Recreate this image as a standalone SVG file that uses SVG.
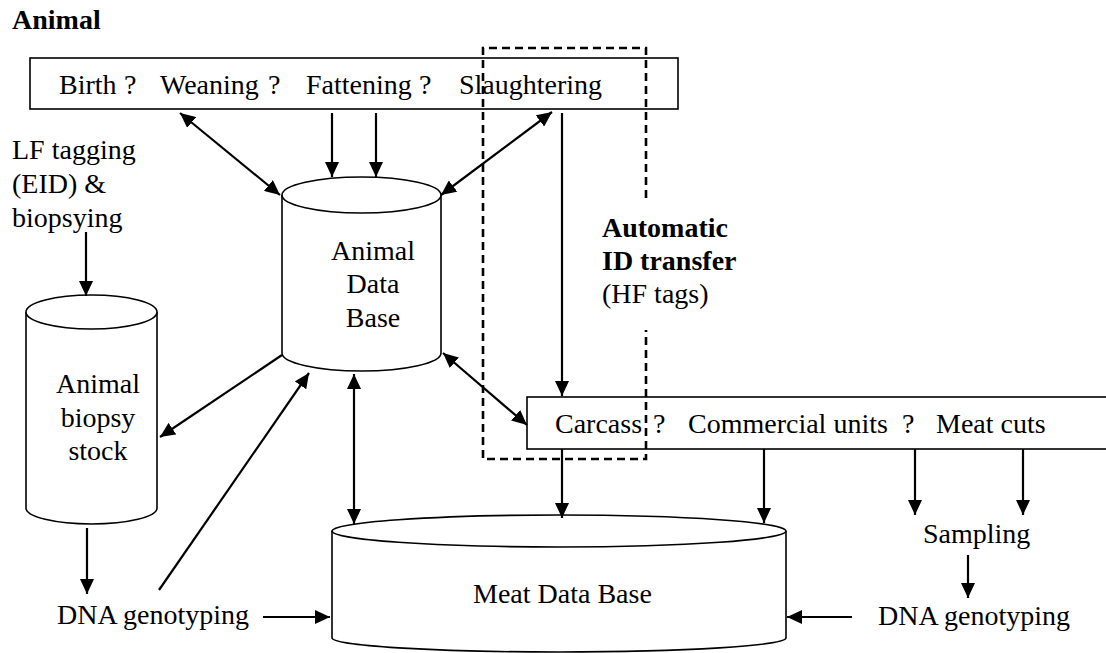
<svg xmlns="http://www.w3.org/2000/svg" width="1106" height="653" viewBox="0 0 1106 653">
<style>
text{font-family:"Liberation Serif","Times New Roman",serif;font-size:28px;fill:#000}
.b{font-weight:bold}
.m{text-anchor:middle}
.box{fill:#fff;stroke:#000;stroke-width:1.6}
.cyl{fill:#fff;stroke:#000;stroke-width:1.6}
.c{stroke:#000;stroke-width:2.2;fill:none}
.dash{fill:none;stroke:#000;stroke-width:2.6;stroke-dasharray:8 5}
</style>
<defs>
<marker id="ah" markerUnits="userSpaceOnUse" markerWidth="16" markerHeight="14" refX="15" refY="7" orient="auto-start-reverse">
<path d="M0,0 L15,7 L0,14 Z" fill="#000"/>
</marker>
</defs>
<rect width="1106" height="653" fill="#fff"/>
<text class="b" x="12" y="29">Animal</text>

<g id="stages-animal">
<rect class="box" x="30" y="58" width="648" height="51"/>
<text y="94"><tspan x="59">Birth</tspan><tspan x="124">?</tspan><tspan x="160">Weaning</tspan><tspan x="268">?</tspan><tspan x="306">Fattening</tspan><tspan x="419">?</tspan><tspan x="459">Slaughtering</tspan></text>
</g>

<g id="stages-meat">
<rect class="box" x="527" y="397" width="600" height="52"/>
<text y="433"><tspan x="555">Carcass</tspan><tspan x="653">?</tspan><tspan x="688">Commercial units</tspan><tspan x="902">?</tspan><tspan x="936">Meat cuts</tspan></text>
</g>

<g id="lf-tagging">
<text x="12" y="159">LF tagging</text>
<text x="12" y="193">(EID) &amp;</text>
<text x="12" y="227">biopsying</text>
</g>

<g id="animal-db">
<path class="cyl" d="M282,195 V353 A79.5,18 0 0 0 441,353 V195"/>
<ellipse class="cyl" cx="361.5" cy="195" rx="79.5" ry="18"/>
<text class="m" x="373" y="260">Animal</text>
<text class="m" x="373" y="293">Data</text>
<text class="m" x="373" y="327">Base</text>
</g>

<g id="biopsy-stock">
<path class="cyl" d="M26,312 V508 A65.5,16 0 0 0 157,508 V312"/>
<ellipse class="cyl" cx="91.5" cy="312" rx="65.5" ry="17"/>
<text class="m" x="98" y="393">Animal</text>
<text class="m" x="98" y="427">biopsy</text>
<text class="m" x="98" y="460">stock</text>
</g>

<g id="meat-db">
<path class="cyl" d="M332,531 V638 A227,14 0 0 0 786,638 V531"/>
<ellipse class="cyl" cx="559" cy="531" rx="227" ry="16"/>
<text x="473" y="603">Meat Data Base</text>
</g>

<g id="dna-left"><text x="57" y="624">DNA genotyping</text></g>
<g id="sampling"><text x="923" y="543">Sampling</text></g>
<g id="dna-right"><text x="878" y="625">DNA genotyping</text></g>

<g id="id-transfer">
<path class="dash" d="M646,198 V48 H483 V459 H646 V330"/>
<text class="b" x="602" y="237">Automatic</text>
<text class="b" x="602" y="270">ID transfer</text>
<text x="602" y="303">(HF tags)</text>
</g>

<g id="connectors">
<line class="c" x1="180" y1="113" x2="280" y2="195" marker-start="url(#ah)" marker-end="url(#ah)"/>
<line class="c" x1="332" y1="113" x2="332" y2="177" marker-end="url(#ah)"/>
<line class="c" x1="376" y1="113" x2="376" y2="177" marker-end="url(#ah)"/>
<line class="c" x1="552" y1="112" x2="441" y2="195" marker-start="url(#ah)" marker-end="url(#ah)"/>
<line class="c" x1="562" y1="113" x2="562" y2="396" marker-end="url(#ah)"/>
<line class="c" x1="443" y1="353" x2="527" y2="425" marker-start="url(#ah)" marker-end="url(#ah)"/>
<line class="c" x1="282" y1="355" x2="160" y2="437" marker-end="url(#ah)"/>
<line class="c" x1="159" y1="590" x2="309" y2="373" marker-end="url(#ah)"/>
<line class="c" x1="354" y1="374" x2="354" y2="524" marker-start="url(#ah)" marker-end="url(#ah)"/>
<line class="c" x1="86" y1="232" x2="86" y2="296" marker-end="url(#ah)"/>
<line class="c" x1="87" y1="528" x2="87" y2="594" marker-end="url(#ah)"/>
<line class="c" x1="263" y1="617" x2="330" y2="617" marker-end="url(#ah)"/>
<line class="c" x1="562" y1="449" x2="562" y2="518" marker-end="url(#ah)"/>
<line class="c" x1="764" y1="449" x2="764" y2="523" marker-end="url(#ah)"/>
<line class="c" x1="915" y1="449" x2="915" y2="515" marker-end="url(#ah)"/>
<line class="c" x1="1023" y1="449" x2="1023" y2="515" marker-end="url(#ah)"/>
<line class="c" x1="968" y1="555" x2="968" y2="598" marker-end="url(#ah)"/>
<line class="c" x1="852" y1="617" x2="787" y2="617" marker-end="url(#ah)"/>
</g>
</svg>
